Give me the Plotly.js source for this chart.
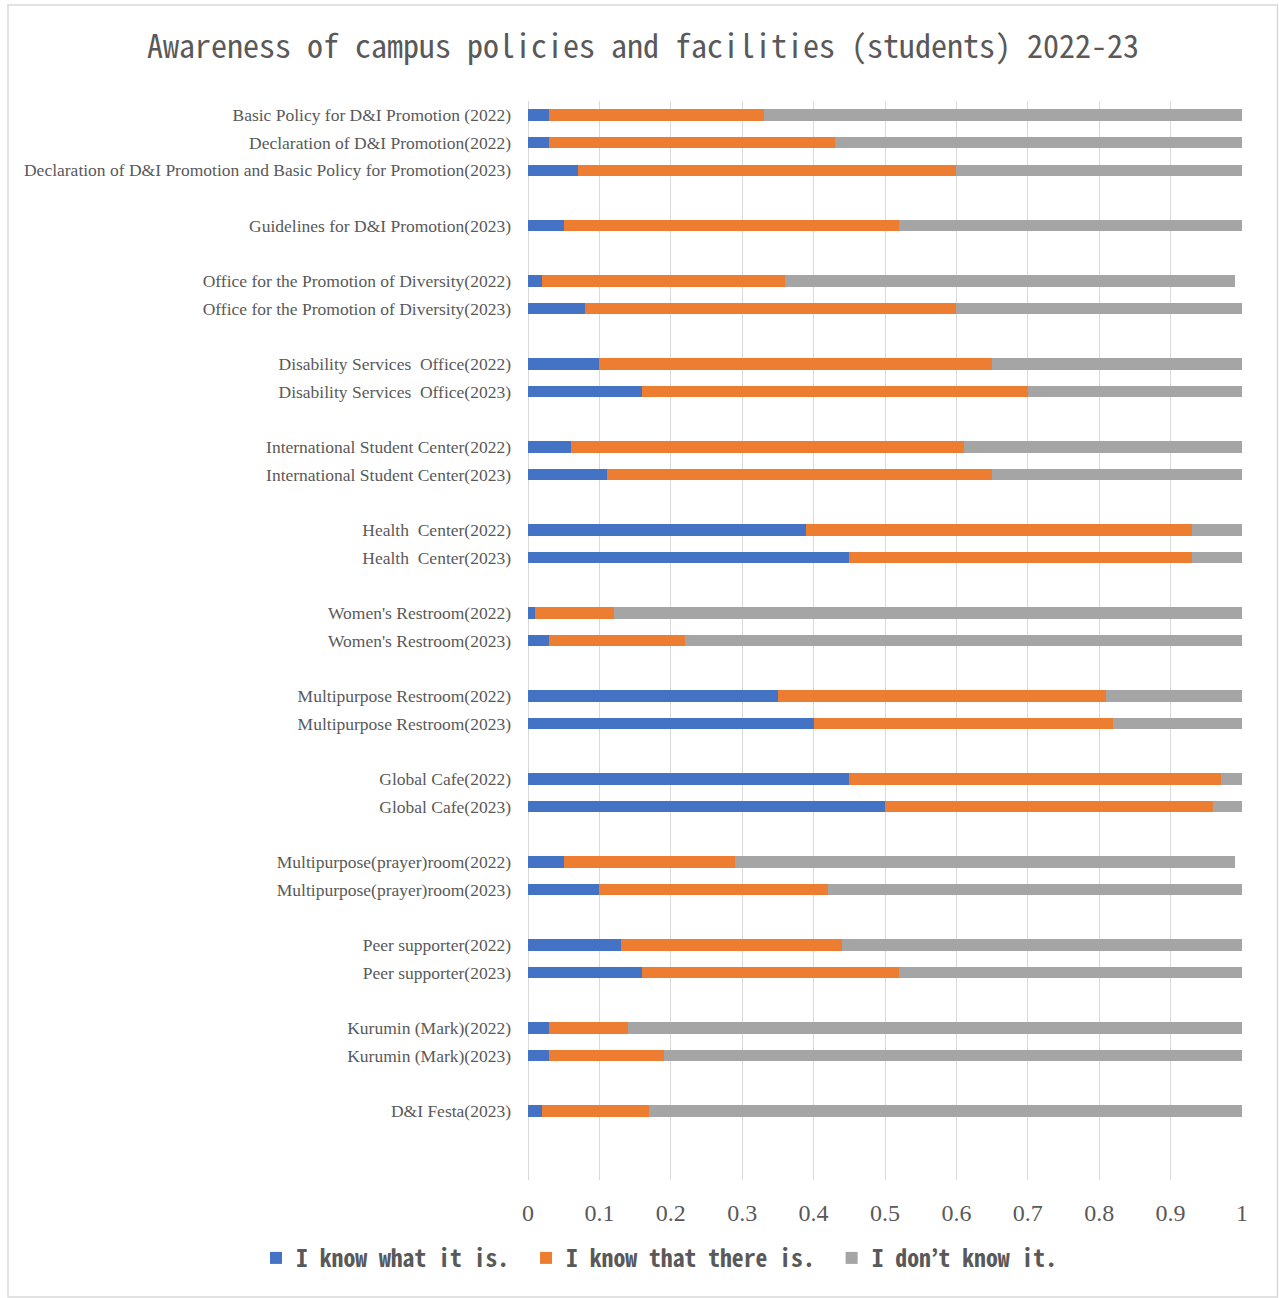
<!DOCTYPE html>
<html>
<head>
<meta charset="utf-8">
<script src="https://cdn.plot.ly/plotly-3.0.1.min.js"></script>
<style>
  html, body { margin: 0; padding: 0; background: #ffffff; }
  #chart { width: 1279px; height: 1298px; }
</style>
</head>
<body>
<div id="chart"></div>
<script>
// Categories top to bottom; whitespace-only entries are the empty spacer rows.
const categories = [
  "Basic Policy for D&I Promotion (2022)",
  "Declaration of D&I Promotion(2022)",
  "Declaration of D&I Promotion and Basic Policy for Promotion(2023)",
  " ",
  "Guidelines for D&I Promotion(2023)",
  "  ",
  "Office for the Promotion of Diversity(2022)",
  "Office for the Promotion of Diversity(2023)",
  "   ",
  "Disability Services\u00a0 Office(2022)",
  "Disability Services\u00a0 Office(2023)",
  "    ",
  "International Student Center(2022)",
  "International Student Center(2023)",
  "     ",
  "Health\u00a0 Center(2022)",
  "Health\u00a0 Center(2023)",
  "      ",
  "Women's Restroom(2022)",
  "Women's Restroom(2023)",
  "       ",
  "Multipurpose Restroom(2022)",
  "Multipurpose Restroom(2023)",
  "        ",
  "Global Cafe(2022)",
  "Global Cafe(2023)",
  "         ",
  "Multipurpose(prayer)room(2022)",
  "Multipurpose(prayer)room(2023)",
  "          ",
  "Peer supporter(2022)",
  "Peer supporter(2023)",
  "           ",
  "Kurumin (Mark)(2022)",
  "Kurumin (Mark)(2023)",
  "            ",
  "D&I Festa(2023)",
  "             ",
  "              "
];

// Legend names (a trailing no-break space widens the gap between entries)
const seriesNames = ["I know what it is.\u00a0", "I know that there is.\u00a0", "I don\u2019t know it.\u00a0"];

const knowWhat = [
  0.03, 0.03, 0.07, null, 0.05, null, 0.02, 0.08, null,
  0.10, 0.16, null, 0.06, 0.11, null, 0.39, 0.45, null,
  0.01, 0.03, null, 0.35, 0.40, null, 0.45, 0.50, null,
  0.05, 0.10, null, 0.13, 0.16, null, 0.03, 0.03, null,
  0.02, null, null
];
const knowThere = [
  0.30, 0.40, 0.53, null, 0.47, null, 0.34, 0.52, null,
  0.55, 0.54, null, 0.55, 0.54, null, 0.54, 0.48, null,
  0.11, 0.19, null, 0.46, 0.42, null, 0.52, 0.46, null,
  0.24, 0.32, null, 0.31, 0.36, null, 0.11, 0.16, null,
  0.15, null, null
];
const dontKnow = [
  0.67, 0.57, 0.40, null, 0.48, null, 0.63, 0.40, null,
  0.35, 0.30, null, 0.392, 0.35, null, 0.07, 0.07, null,
  0.88, 0.78, null, 0.19, 0.18, null, 0.03, 0.04, null,
  0.70, 0.58, null, 0.56, 0.48, null, 0.86, 0.81, null,
  0.83, null, null
];

const xTickVals = [0, 0.1, 0.2, 0.3, 0.4, 0.5, 0.6, 0.7, 0.8, 0.9, 1];
const xTickText = ["0", "0.1", "0.2", "0.3", "0.4", "0.5", "0.6", "0.7", "0.8", "0.9", "1"];

const colors = ["#4472C4", "#ED7D31", "#A5A5A5"];
const seriesValues = [knowWhat, knowThere, dontKnow];

const traces = seriesValues.map((vals, i) => ({
  type: "bar",
  orientation: "h",
  name: seriesNames[i],
  y: categories,
  x: vals,
  marker: { color: colors[i], line: { width: 0 } },
  hoverinfo: "x+y+name"
}));

const W = 1279, H = 1298;
const L = 528, R = 1242, T = 101, B = 1180;
const PW = R - L, PH = B - T;

const monoFont = '"Noto Sans Mono CJK JP", "Noto Sans CJK JP", "DejaVu Sans Mono", monospace';
const serifFont = '"Liberation Serif", "DejaVu Serif", serif';

const layout = {
  width: W,
  height: H,
  margin: { l: L, r: W - R, t: T, b: H - B, pad: 0 },
  paper_bgcolor: "#ffffff",
  plot_bgcolor: "#ffffff",
  barmode: "stack",
  bargap: 0.59,
  showlegend: true,
  title: {
    text: "Awareness of campus policies and facilities (students) 2022-23",
    font: { family: monoFont, size: 32, color: "#595959" },
    xref: "container",
    yref: "container",
    x: 643 / W,
    xanchor: "center",
    y: 1 - 47 / H,
    yanchor: "middle"
  },
  xaxis: {
    range: [0, 1],
    tickvals: xTickVals,
    ticktext: xTickText,
    showgrid: true,
    gridcolor: "#D9D9D9",
    gridwidth: 1,
    zeroline: true,
    zerolinecolor: "#D9D9D9",
    zerolinewidth: 1,
    showline: false,
    ticks: "",
    ticklabelstandoff: 16,
    tickfont: { family: serifFont, size: 24, color: "#595959" },
    fixedrange: true
  },
  yaxis: {
    type: "category",
    categoryorder: "array",
    categoryarray: categories,
    autorange: "reversed",
    showgrid: false,
    zeroline: false,
    showline: false,
    ticks: "",
    ticklabelstandoff: 16,
    tickfont: { family: serifFont, size: 17.5, color: "#595959" },
    fixedrange: true
  },
  legend: {
    orientation: "h",
    traceorder: "normal",
    xref: "paper",
    yref: "paper",
    x: (256 - L) / PW,
    xanchor: "left",
    y: (B - 1258) / PH,
    yanchor: "middle",
    font: { family: monoFont, size: 23.7, color: "#595959", weight: "bold" },
    bgcolor: "rgba(0,0,0,0)",
    itemclick: false,
    itemdoubleclick: false
  },
  shapes: [
    {
      type: "rect",
      xref: "paper",
      yref: "paper",
      x0: (8 - L) / PW,
      x1: (1277.5 - L) / PW,
      y0: (B - 1297) / PH,
      y1: (B - 5) / PH,
      line: { color: "#D9D9D9", width: 1.5 },
      fillcolor: "rgba(0,0,0,0)",
      layer: "below"
    }
  ]
};

Plotly.newPlot("chart", traces, layout, { displayModeBar: false, staticPlot: false, responsive: false });
</script>
</body>
</html>
